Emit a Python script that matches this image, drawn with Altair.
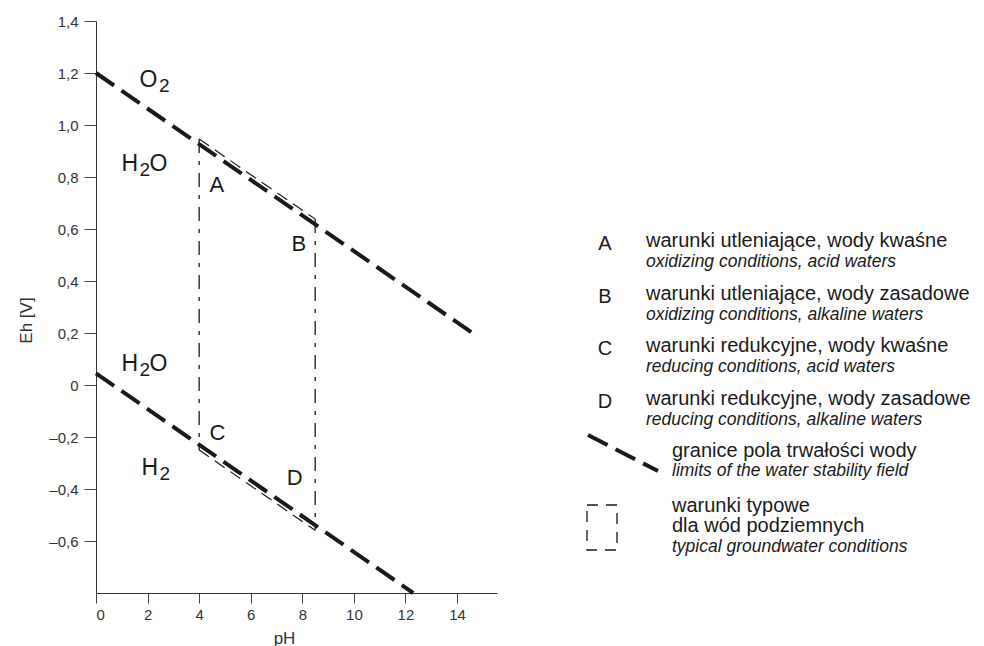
import altair as alt
import pandas as pd

FONT = "Liberation Sans"
INK = "#1a1a1a"

# ---------------- data ----------------
ph_ticks = [0, 2, 4, 6, 8, 10, 12, 14]
eh_ticks = [-0.6, -0.4, -0.2, 0, 0.2, 0.4, 0.6, 0.8, 1.0, 1.2, 1.4]

# limits of the water stability field (O2/H2O and H2O/H2)
upper_ph = [0.0, 14.6]
upper_eh = [1.2, 0.2]
lower_ph = [0.0, 12.3]
lower_eh = [0.045, -0.8]

# typical groundwater conditions field
field_ph = [4.0, 8.5]
field_top_eh = [0.946, 0.638]
field_bottom_eh = [-0.25, -0.559]

# species labels (base letter, subscript, tail)
formula_base = ["O", "H", "H", "H"]
formula_sub = ["2", "2", "2", "2"]
formula_tail = ["", "O", "O", ""]
formula_ph = [1.69, 0.99, 0.99, 1.76]
formula_eh = [1.145, 0.824, 0.055, -0.346]

# region letters
letter_text = ["A", "B", "C", "D"]
letter_ph = [4.69, 7.87, 4.71, 7.70]
letter_eh = [0.769, 0.544, -0.185, -0.358]

# legend
legend_keys = ["A", "B", "C", "D"]
legend_pl = [
    "warunki utleniające, wody kwaśne",
    "warunki utleniające, wody zasadowe",
    "warunki redukcyjne, wody kwaśne",
    "warunki redukcyjne, wody zasadowe",
]
legend_en = [
    "oxidizing conditions, acid waters",
    "oxidizing conditions, alkaline waters",
    "reducing conditions, acid waters",
    "reducing conditions, alkaline waters",
]
legend_rows = [0, 1, 2, 3]
limits_pl = "granice pola trwałości wody"
limits_en = "limits of the water stability field"
typical_pl = ["warunki typowe", "dla wód podziemnych"]
typical_en = "typical groundwater conditions"

# ---------------- layout ----------------
LEFT, TOP, W, H = 96, 21, 401, 572
PAGE_W, PAGE_H = 984, 646

# ---------------- tables ----------------
bounds = pd.DataFrame({
    "pH": upper_ph + lower_ph,
    "Eh": upper_eh + lower_eh,
    "line": ["upper"] * len(upper_ph) + ["lower"] * len(lower_ph),
})
verticals = pd.DataFrame({
    "pH": [field_ph[0], field_ph[0], field_ph[1], field_ph[1]],
    "Eh": [field_top_eh[0], field_bottom_eh[0], field_top_eh[1], field_bottom_eh[1]],
    "edge": ["left", "left", "right", "right"],
})
parallels = pd.DataFrame({
    "pH": field_ph + field_ph,
    "Eh": field_top_eh + field_bottom_eh,
    "edge": ["top", "top", "bottom", "bottom"],
})
formulas = pd.DataFrame({
    "base": formula_base, "sub": formula_sub, "tail": formula_tail,
    "pH": formula_ph, "Eh": formula_eh,
})
letters = pd.DataFrame({"t": letter_text, "pH": letter_ph, "Eh": letter_eh})
legend_df = pd.DataFrame({"key": legend_keys, "pl": legend_pl, "en": legend_en, "row": legend_rows})
one = alt.Data(values=[{"k": 1}])

# ---------------- axes / encodings ----------------
axis_x = alt.Axis(
    values=ph_ticks, title="pH", grid=False,
    tickSize=10, tickColor="#444", domainColor="#333", domainWidth=1,
    labelFont=FONT, labelFontSize=15, labelColor="#333", labelPadding=4,
    titleFont=FONT, titleFontSize=17, titleFontWeight="normal", titleColor="#333",
    titleX=188, titleY=45, titleBaseline="middle", titleAlign="center",
)
axis_y = alt.Axis(
    values=eh_ticks, title="Eh [V]", grid=False,
    tickSize=12, tickColor="#444", domainColor="#333", domainWidth=1,
    labelFont=FONT, labelFontSize=15, labelColor="#333", labelPadding=6,
    labelExpr="datum.value == 0 ? '0' : (datum.value < 0 ? '–' : '') + replace(format(abs(datum.value), '.1f'), '.', ',')",
    titleFont=FONT, titleFontSize=17, titleFontWeight="normal", titleColor="#333",
    titleAngle=270, titleX=-70, titleY=299, titleBaseline="middle", titleAlign="center",
)
X = alt.X("pH:Q", scale=alt.Scale(domain=[0, 15.55], nice=False, zero=False), axis=axis_x)
Y = alt.Y("Eh:Q", scale=alt.Scale(domain=[-0.8, 1.4], nice=False, zero=False), axis=axis_y)

# ---------------- main plot layers ----------------
thick = alt.Chart(bounds).mark_line(
    color=INK, strokeWidth=4, strokeDash=[22, 9], strokeCap="butt"
).encode(x=X, y=Y, detail="line:N")

vert = alt.Chart(verticals).mark_line(
    color=INK, strokeWidth=1.3, strokeDash=[14, 8, 4, 8]
).encode(x=X, y=Y, detail="edge:N")

thin = alt.Chart(parallels).mark_line(
    color=INK, strokeWidth=1.2, strokeDash=[12, 7]
).encode(x=X, y=Y, detail="edge:N")

base_txt = alt.Chart(formulas).mark_text(
    align="left", baseline="alphabetic", fontSize=23, font=FONT, color=INK
).encode(x=X, y=Y, text="base:N")
sub_h = alt.Chart(formulas).transform_filter("datum.base == 'H'").mark_text(
    align="left", baseline="alphabetic", fontSize=19, font=FONT, color=INK, dx=18, dy=5
).encode(x=X, y=Y, text="sub:N")
sub_o = alt.Chart(formulas).transform_filter("datum.base == 'O'").mark_text(
    align="left", baseline="alphabetic", fontSize=19, font=FONT, color=INK, dx=19.5, dy=5
).encode(x=X, y=Y, text="sub:N")
tail_txt = alt.Chart(formulas).transform_filter("datum.tail != ''").mark_text(
    align="left", baseline="alphabetic", fontSize=23, font=FONT, color=INK, dx=28
).encode(x=X, y=Y, text="tail:N")

letter_txt = alt.Chart(letters).mark_text(
    align="center", baseline="middle", fontSize=22, font=FONT, color=INK
).encode(x=X, y=Y, text="t:N")

main = alt.layer(thick, vert, thin, base_txt, sub_h, sub_o, tail_txt, letter_txt)

# ---------------- legend layers ----------------
YL = alt.Y("row:Q", scale=alt.Scale(domain=[0, 3], range=[244 - TOP, 402 - TOP], nice=False, zero=False), axis=None)

leg_key = alt.Chart(legend_df).mark_text(
    align="center", baseline="middle", fontSize=20, font=FONT, color=INK
).encode(x=alt.value(605 - LEFT), y=YL, text="key:N")
leg_pl = alt.Chart(legend_df).mark_text(
    align="left", baseline="middle", fontSize=20, font=FONT, color=INK, dy=-3
).encode(x=alt.value(646 - LEFT), y=YL, text="pl:N")
leg_en = alt.Chart(legend_df).mark_text(
    align="left", baseline="middle", fontSize=17.5, font=FONT, color=INK, fontStyle="italic", dy=18
).encode(x=alt.value(646 - LEFT), y=YL, text="en:N")

leg_line = alt.Chart(one).mark_rule(
    color=INK, strokeWidth=4, strokeDash=[22, 9], strokeCap="butt"
).encode(x=alt.value(588 - LEFT), x2=alt.value(658 - LEFT), y=alt.value(435 - TOP), y2=alt.value(471 - TOP))
leg_lim_pl = alt.Chart(one).mark_text(
    align="left", baseline="middle", fontSize=20, font=FONT, color=INK
).encode(x=alt.value(672 - LEFT), y=alt.value(451 - TOP), text=alt.value(limits_pl))
leg_lim_en = alt.Chart(one).mark_text(
    align="left", baseline="middle", fontSize=17.5, font=FONT, color=INK, fontStyle="italic"
).encode(x=alt.value(672 - LEFT), y=alt.value(471 - TOP), text=alt.value(limits_en))

leg_box = alt.Chart(one).mark_rect(
    filled=False, stroke=INK, strokeWidth=1.3, strokeDash=[11, 8]
).encode(x=alt.value(587 - LEFT), x2=alt.value(617 - LEFT), y=alt.value(505 - TOP), y2=alt.value(550 - TOP))
leg_typ_1 = alt.Chart(one).mark_text(
    align="left", baseline="middle", fontSize=20, font=FONT, color=INK
).encode(x=alt.value(672 - LEFT), y=alt.value(506 - TOP), text=alt.value(typical_pl[0]))
leg_typ_2 = alt.Chart(one).mark_text(
    align="left", baseline="middle", fontSize=20, font=FONT, color=INK
).encode(x=alt.value(672 - LEFT), y=alt.value(526 - TOP), text=alt.value(typical_pl[1]))
leg_typ_en = alt.Chart(one).mark_text(
    align="left", baseline="middle", fontSize=17.5, font=FONT, color=INK, fontStyle="italic"
).encode(x=alt.value(672 - LEFT), y=alt.value(547 - TOP), text=alt.value(typical_en))

legend = alt.layer(leg_key, leg_pl, leg_en, leg_line, leg_lim_pl, leg_lim_en,
                   leg_box, leg_typ_1, leg_typ_2, leg_typ_en)

chart = alt.layer(main, legend).resolve_scale(y="independent").properties(
    width=W, height=H,
    autosize=alt.AutoSizeParams(type="none"),
    padding={"left": LEFT, "top": TOP, "right": PAGE_W - LEFT - W, "bottom": PAGE_H - TOP - H},
    background="white",
).configure_view(stroke=None).configure_axis(
    titleFontSize=17, labelFontSize=15, titleFont=FONT, labelFont=FONT
)

chart.save("out.html", embed_options={"renderer": "svg", "actions": False})
